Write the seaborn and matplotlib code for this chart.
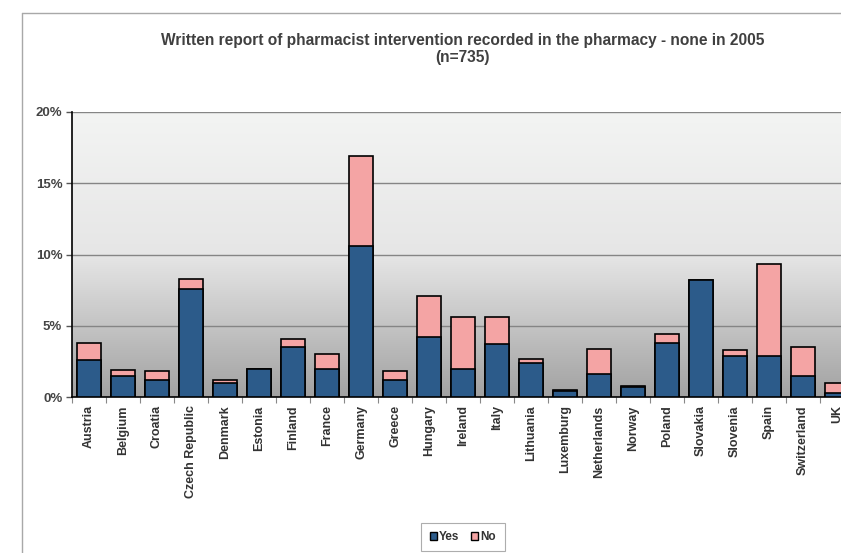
import numpy as np
import pandas as pd
import seaborn as sns
import matplotlib.pyplot as plt
from matplotlib.patches import Patch
from matplotlib.lines import Line2D

countries = ['Austria', 'Belgium', 'Croatia', 'Czech Republic', 'Denmark', 'Estonia',
             'Finland', 'France', 'Germany', 'Greece', 'Hungary', 'Ireland', 'Italy',
             'Lithuania', 'Luxemburg', 'Netherlands', 'Norway', 'Poland', 'Slovakia',
             'Slovenia', 'Spain', 'Switzerland', 'UK']
yes_pct = [2.6, 1.5, 1.2, 7.6, 1.0, 2.0, 3.5, 2.0, 10.6, 1.2, 4.2, 2.0, 3.7,
           2.4, 0.4, 1.6, 0.7, 3.8, 8.2, 2.9, 2.9, 1.5, 0.3]
no_pct = [1.2, 0.4, 0.6, 0.7, 0.2, 0.0, 0.6, 1.0, 6.3, 0.6, 2.9, 3.6, 1.9,
          0.3, 0.1, 1.8, 0.1, 0.6, 0.0, 0.4, 6.4, 2.0, 0.7]

df = pd.DataFrame({'country': countries, 'yes': yes_pct, 'no': no_pct})
df['total'] = df['yes'] + df['no']

sns.set_style('white')
plt.rcParams['font.family'] = ['Liberation Sans', 'DejaVu Sans']

yes_color = '#2c5b8a'
no_color = '#f4a4a4'

fig = plt.figure(figsize=(8.41, 5.53), dpi=100)
ax = fig.add_axes([72 / 841, 156 / 553, 782 / 841, 285 / 553])

# grey gradient background of the plot area
grad = np.linspace(0, 1, 256).reshape(-1, 1)
ax.imshow(grad, extent=[-0.5, len(countries) - 0.5, 0, 20], aspect='auto',
          cmap=sns.blend_palette(['#f3f4f3', '#e6e6e6', '#a2a2a2'], as_cmap=True),
          origin='upper', zorder=0)

for v in [5, 10, 15, 20]:
    ax.axhline(v, color='#858585', lw=1, zorder=1)

# stacked bars: total (No on top) first, then Yes over it
sns.barplot(data=df, x='country', y='total', color=no_color, edgecolor='black',
            linewidth=1.2, width=0.72, saturation=1, ax=ax, zorder=2)
sns.barplot(data=df, x='country', y='yes', color=yes_color, edgecolor='black',
            linewidth=1.2, width=0.72, saturation=1, ax=ax, zorder=3)

ax.set_xlim(-0.5, len(countries) - 0.5)
ax.set_ylim(0, 20)
ax.set_xlabel('')
ax.set_ylabel('')
ax.set_yticks([0, 5, 10, 15, 20])
ax.set_yticklabels(['0%', '5%', '10%', '15%', '20%'], fontsize=9.5, fontweight='bold',
                   color='#444444')
ax.set_xticks(range(len(countries)))
ax.set_xticklabels(countries, rotation=90, fontsize=9, fontweight='bold', color='#333333')
ax.tick_params(axis='x', length=0, pad=6)
ax.tick_params(axis='y', length=4, width=1, color='#555555', left=True, pad=3)
ax.set_xticks(np.arange(-0.5, len(countries), 1), minor=True)
ax.tick_params(axis='x', which='minor', length=4, width=0.8, color='#888888', bottom=True)

for s in ['top', 'right']:
    ax.spines[s].set_visible(False)
ax.spines['left'].set_color('black')
ax.spines['bottom'].set_color('black')
ax.spines['left'].set_linewidth(1.2)
ax.spines['bottom'].set_linewidth(1.2)

fig.text(463 / 841, 1 - 49 / 553,
         'Written report of pharmacist intervention recorded in the pharmacy - none in 2005\n(n=735)',
         ha='center', va='center', fontsize=11.2, fontweight='bold', color='#404040',
         linespacing=1.1)

handles = [Patch(facecolor=yes_color, edgecolor='black', label='Yes'),
           Patch(facecolor=no_color, edgecolor='black', label='No')]
leg = fig.legend(handles=handles, loc='center', bbox_to_anchor=(463 / 841, 1 - 537 / 553),
                 ncol=2, frameon=True, fancybox=False, handlelength=0.6, handleheight=0.6,
                 handletextpad=0.2, columnspacing=1.0, borderpad=0.7,
                 prop={'size': 8.5, 'weight': 'bold'})
leg.get_frame().set_edgecolor('#999999')
leg.get_frame().set_linewidth(0.8)
for t in leg.get_texts():
    t.set_color('#333333')

# outer chart border
fig.add_artist(Line2D([22 / 841, 22 / 841], [0, 1 - 13 / 553], color='#a8a8a8', lw=1))
fig.add_artist(Line2D([22 / 841, 1], [1 - 13 / 553, 1 - 13 / 553], color='#a8a8a8', lw=1))

plt.savefig('out.png', dpi=100)
